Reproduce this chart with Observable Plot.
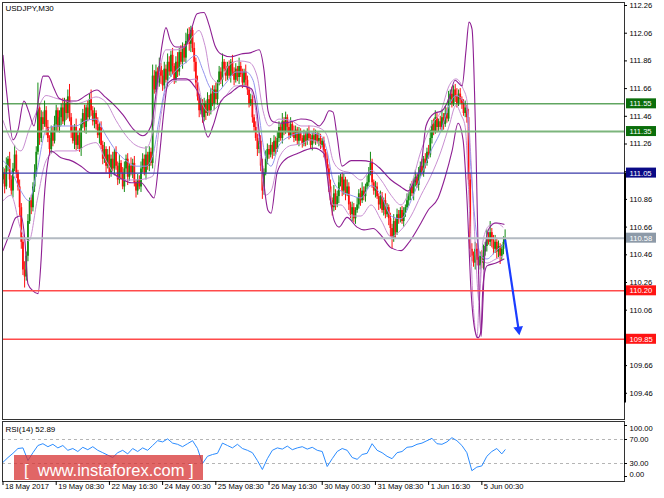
<!DOCTYPE html>
<html><head><meta charset="utf-8">
<script src="https://cdn.jsdelivr.net/npm/d3@7"></script>
<script src="https://cdn.jsdelivr.net/npm/@observablehq/plot@0.6"></script>
<style>
html,body{margin:0;padding:0;background:#fff;}
#wrap{position:relative;width:664px;height:498px;overflow:hidden;}
#main{position:absolute;left:0;top:0;}
#rsi{position:absolute;left:0;top:420px;}
#wm{position:absolute;left:14px;top:455px;width:189px;height:25px;background:rgba(214,48,48,0.74);color:#fff;
font-family:"Liberation Sans",Arial,sans-serif;font-size:16.5px;line-height:31px;white-space:pre;padding-left:10px;box-sizing:border-box;}
</style></head>
<body><div id="wrap"><div id="main"></div><div id="rsi"></div><div id="wm">[  www.instaforex.com ]</div></div>
<script>
// ---------- data ----------
const symbolLabel = "USDJPY,M30";
const firstOpen = 111.00;
const closes = [
111.05,110.95,111.10,111.15,111.00,110.92,111.08,111.18,111.05,110.95,
110.80,110.55,110.35,110.30,110.45,110.70,110.85,110.80,110.95,111.05,
111.20,111.52,111.30,111.45,111.40,111.50,111.38,111.30,111.22,111.35,
111.28,111.40,111.50,111.38,111.45,111.52,111.42,111.55,111.48,111.60,
111.45,111.35,111.28,111.38,111.25,111.32,111.22,111.40,111.48,111.38,
111.52,111.45,111.58,111.50,111.42,111.48,111.40,111.32,111.38,111.25,
111.15,111.22,111.10,111.18,111.05,111.15,111.08,111.20,111.10,111.00,
111.12,111.05,110.95,111.08,111.15,111.02,111.10,111.05,111.12,110.98,
110.92,111.00,110.95,111.08,111.15,111.05,111.18,111.10,111.20,111.12,
111.75,111.65,111.78,111.70,111.82,111.75,111.68,111.80,111.72,111.85,
111.78,111.90,111.82,111.72,111.85,111.78,111.92,111.85,111.95,111.88,
112.00,112.05,111.98,112.08,111.95,111.85,111.70,111.60,111.50,111.55,
111.45,111.55,111.48,111.58,111.50,111.62,111.55,111.65,111.58,111.70,
111.78,111.72,111.85,111.80,111.75,111.82,111.75,111.85,111.78,111.72,
111.80,111.74,111.82,111.76,111.70,111.78,111.72,111.65,111.55,111.58,
111.45,111.38,111.30,111.22,111.28,111.10,110.92,111.05,111.15,111.22,
111.18,111.25,111.20,111.28,111.22,111.30,111.38,111.30,111.42,111.35,
111.45,111.38,111.32,111.40,111.35,111.30,111.36,111.28,111.34,111.30,
111.26,111.32,111.28,111.35,111.30,111.25,111.32,111.28,111.33,111.28,
111.30,111.25,111.28,111.20,111.15,111.08,110.95,110.85,110.80,110.90,
110.82,110.88,110.98,111.02,110.92,111.00,110.90,110.95,110.82,110.75,
110.80,110.72,110.78,110.82,110.90,110.85,110.92,110.88,110.95,110.98,
111.05,111.12,110.98,110.92,110.95,110.88,110.82,110.88,110.78,110.85,
110.75,110.80,110.72,110.65,110.58,110.70,110.62,110.75,110.72,110.78,
110.70,110.76,110.80,110.85,110.88,110.95,110.90,110.98,111.02,110.96,
111.05,111.10,111.05,111.15,111.12,111.20,111.18,111.30,111.40,111.35,
111.45,111.38,111.42,111.38,111.45,111.40,111.48,111.44,111.58,111.62,
111.55,111.65,111.60,111.55,111.62,111.58,111.55,111.48,111.52,111.45,
111.00,110.50,110.45,110.40,110.50,110.42,110.38,110.45,110.40,110.48,
110.52,110.58,110.55,110.62,110.56,110.50,110.55,110.48,110.52,110.45,
110.50,110.55,110.58];
// upper / lower wick lengths in pips beyond the candle body
const hiW = [
4,3,6,2,5,3,4,7,3,2,5,3,4,6,3,5,2,4,3,6,4,18,3,5,4,7,3,5,2,4,
3,6,4,2,5,3,7,4,3,5,9,3,4,2,6,3,5,4,3,6,2,5,4,7,3,4,2,5,3,4,
3,5,2,4,6,3,5,2,4,3,6,2,4,5,3,4,2,6,3,5,2,4,3,5,4,3,6,2,4,3,
8,4,5,3,6,2,4,5,3,6,4,3,5,2,4,7,3,5,4,3,6,4,5,3,2,4,3,5,2,4,
3,4,2,5,3,4,6,3,5,2,4,3,6,2,5,3,4,2,5,3,4,2,6,3,4,2,5,3,2,4,
3,2,4,3,2,4,5,3,6,4,3,5,2,4,3,5,4,2,6,3,4,2,3,5,2,4,3,2,4,3,
2,4,3,2,4,3,2,5,3,2,4,3,2,3,2,4,3,5,2,6,3,4,5,2,3,4,2,5,3,2,
4,3,2,5,3,4,6,3,2,5,4,8,3,2,4,3,2,4,3,2,5,3,2,4,3,5,2,4,3,2,
3,4,2,5,3,2,4,3,5,2,4,3,5,2,4,3,5,6,3,4,5,3,2,4,6,3,5,4,6,3,
5,3,4,6,3,4,2,3,5,2,6,5,4,3,5,4,2,3,4,5,3,6,4,8,3,4,5,3,4,2,
3,4,6];
const loW = [
3,5,2,4,6,3,5,2,4,3,6,5,4,8,3,4,2,5,3,4,3,2,5,3,4,2,6,3,5,3,
4,2,5,3,4,6,2,3,5,4,3,5,2,6,4,3,2,5,3,4,5,3,2,4,3,5,4,2,6,3,
4,3,5,2,4,3,2,5,3,4,3,5,2,4,3,6,3,2,4,3,5,3,2,4,3,2,5,3,4,2,
4,3,2,5,3,6,4,3,2,5,3,4,6,3,2,4,3,2,5,3,4,2,5,6,3,7,4,3,5,3,
4,3,5,2,4,3,2,5,3,4,2,3,5,2,4,3,2,5,3,4,2,3,5,2,4,3,5,4,3,2,
4,3,2,5,3,4,6,3,2,4,3,2,5,3,4,2,3,2,4,3,2,4,3,2,4,3,2,3,4,2,
3,2,4,3,2,3,4,2,3,2,4,3,2,4,3,5,4,3,6,3,4,2,5,3,4,3,5,2,4,3,
5,3,4,2,3,4,2,3,4,2,3,2,4,3,5,2,4,3,2,4,3,2,5,6,8,3,5,2,4,3,
2,4,3,2,4,3,2,5,3,2,4,3,2,3,4,2,3,2,4,3,2,4,3,2,3,4,2,3,2,4,
3,2,4,3,2,3,4,2,3,4,5,6,4,3,5,4,6,3,4,5,3,4,2,3,5,4,3,5,4,6,
3,4,2];
// envelope lines: [bar index, price]
const outerUpper = [[0,111.90],[2.4,111.61],[6,111.29],[9,111.36],[12.6,111.57],[15.6,111.49],[18.6,111.39],[21.7,111.61],[24.1,111.75],[27.1,111.75],[30.7,111.66],[33.7,111.59],[38.5,111.57],[43.9,111.57],[49.9,111.61],[56.5,111.65],[61.4,111.60],[66.2,111.55],[72.2,111.47],[78.2,111.37],[84.2,111.32],[89,111.39],[92.6,111.68],[95.6,111.97],[98,112.10],[100.5,112.01],[104.1,111.96],[109.5,111.96],[113.1,112.08],[116.7,112.20],[120.9,112.21],[123.9,112.12],[127.5,111.97],[131.1,111.91],[137.1,111.89],[143.2,111.91],[149.2,111.92],[154,111.94],[157,111.79],[159.4,111.50],[162.4,111.42],[167.2,111.41],[173.2,111.42],[179.2,111.44],[185.3,111.43],[190.1,111.39],[193.1,111.43],[196.1,111.50],[198.5,111.49],[200.9,111.32],[203.9,111.10],[209.3,111.14],[215.3,111.14],[221.4,111.13],[226.2,111.09],[233.4,111.00],[239.4,110.95],[243.6,110.92],[247.8,111.00],[251.4,111.10],[254.4,111.39],[259.2,111.48],[264.1,111.50],[268.3,111.59],[271.9,111.72],[276.1,111.68],[278.5,111.94],[280.3,112.14],[282.1,112.09],[284.5,111.21],[286.3,110.20],[287.5,109.87],[288.7,110.13],[289.9,110.49],[292.3,110.65],[296.5,110.69],[301.3,110.68]];
const outerLower = [[0,110.49],[3.6,110.60],[7.8,110.73],[10.8,110.74],[13.2,110.56],[15,110.25],[18,110.20],[21.1,110.18],[22.9,110.42],[24.7,110.85],[27.1,111.14],[28.9,111.21],[34.9,111.16],[40.9,111.14],[46.9,111.10],[52.9,111.05],[58.9,111.05],[65,111.05],[71,111.01],[77,110.98],[83,110.98],[87.8,110.91],[90.8,110.87],[93.8,111.14],[96.8,111.50],[99.2,111.70],[104.1,111.73],[110.1,111.73],[114.9,111.68],[117.9,111.61],[120.9,111.39],[123.3,111.31],[126.3,111.39],[131.1,111.57],[137.1,111.63],[143.2,111.68],[149.2,111.66],[152.2,111.54],[155.2,111.21],[157,110.97],[159.4,110.78],[161.2,110.76],[164.8,111.05],[169,111.14],[176.8,111.19],[187.1,111.23],[193.1,111.19],[196.1,110.92],[199.1,110.71],[202.1,110.66],[206.9,110.73],[212.9,110.66],[217.1,110.64],[222.6,110.65],[227.4,110.60],[233.4,110.51],[239.4,110.49],[243.6,110.54],[251.4,110.69],[255.6,110.78],[261.7,110.87],[265.9,111.02],[270.1,111.21],[273.7,111.41],[276.7,111.29],[279.1,110.85],[281.5,110.20],[283.9,109.91],[285.7,109.86],[287.5,109.91],[288.7,110.24],[291.1,110.38],[296.5,110.40],[301.3,110.43]];
const innerUpper = [[0,111.43],[4.8,111.29],[10.8,111.21],[15.6,111.36],[20.5,111.50],[25.9,111.61],[31.9,111.59],[37.9,111.57],[43.9,111.55],[49.9,111.57],[55.9,111.60],[62,111.56],[68,111.43],[74,111.32],[80,111.25],[86,111.23],[90.2,111.36],[93.8,111.75],[98,111.94],[104.1,111.94],[110.1,111.97],[114.3,112.04],[117.9,112.08],[121.5,111.97],[125.1,111.75],[129.9,111.70],[135.9,111.83],[142,111.86],[148,111.85],[152.8,111.75],[156.4,111.50],[160,111.39],[166,111.44],[173.2,111.43],[179.2,111.39],[185.3,111.39],[191.3,111.37],[194.9,111.32],[198.5,111.14],[203.3,111.07],[209.3,111.05],[215.3,111.00],[221.4,111.07],[227.4,111.00],[233.4,110.89],[239.4,110.82],[245.4,110.96],[251.4,111.21],[257.4,111.39],[263.5,111.50],[268.3,111.68],[272.5,111.73],[276.7,111.66],[279.1,111.57],[281.5,111.14],[283.9,110.56],[286.3,110.13],[288.7,110.56],[292.3,110.67],[296.5,110.69],[300.7,110.66]];
const innerLower = [[0,110.85],[4.8,110.89],[10.8,110.64],[15.6,110.56],[20.5,110.85],[25.9,111.14],[31.9,111.21],[37.9,111.21],[43.9,111.21],[49.9,111.25],[55.9,111.27],[62,111.14],[68,111.03],[74,111.00],[80,111.00],[86,111.01],[90.2,111.03],[93.8,111.36],[98,111.65],[104.1,111.72],[110.1,111.72],[116.1,111.73],[120.3,111.54],[123.9,111.49],[128.1,111.52],[134.1,111.61],[140.2,111.68],[146.2,111.68],[150.4,111.61],[154,111.29],[157.6,110.89],[161.2,110.92],[166,111.16],[173.2,111.25],[179.2,111.26],[185.3,111.29],[191.3,111.25],[194.9,111.07],[198.5,110.82],[203.3,110.82],[209.3,110.74],[215.3,110.74],[221.4,110.82],[227.4,110.71],[233.4,110.59],[239.4,110.64],[245.4,110.74],[251.4,110.89],[257.4,111.03],[263.5,111.21],[268.3,111.39],[272.5,111.54],[275.5,111.47],[277.9,111.39],[280.3,110.85],[282.7,110.13],[285.1,109.86],[286.3,110.13],[288.1,110.42],[291.1,110.40],[296.5,110.43],[300.7,110.45]];
const middle = [[0,111.14],[4.8,111.07],[10.8,110.92],[15.6,110.85],[20.5,111.07],[25.9,111.36],[31.9,111.39],[37.9,111.39],[43.9,111.39],[49.9,111.43],[55.9,111.44],[62,111.32],[68,111.21],[74,111.14],[80,111.10],[86,111.10],[90.2,111.18],[93.8,111.43],[98,111.68],[104.1,111.79],[110.1,111.85],[116.1,111.90],[120.3,111.79],[123.9,111.68],[128.1,111.63],[134.1,111.70],[140.2,111.78],[146.2,111.78],[150.4,111.72],[154,111.47],[157.6,111.18],[161.2,111.10],[166,111.25],[173.2,111.32],[179.2,111.34],[185.3,111.34],[191.3,111.32],[194.9,111.21],[198.5,111.00],[203.3,110.92],[209.3,110.89],[215.3,110.87],[221.4,110.96],[227.4,110.89],[233.4,110.74],[239.4,110.72],[245.4,110.85],[251.4,111.03],[257.4,111.21],[263.5,111.36],[268.3,111.54],[272.5,111.61],[276.7,111.57],[279.1,111.50],[281.5,111.07],[284.5,110.64],[287.5,110.45],[291.1,110.43],[296.5,110.49],[300.7,110.53]];
// horizontal levels
const levelValues = [111.55, 111.35, 111.05, 110.58, 110.20, 109.85];
const levelLineColors = ["#127a12", "#7cb57c", "#3a3aa8", "#b3bac2", "#ff4a4a", "#ff4a4a"];
const levelLineWidths = [1, 2, 1.3, 2, 1.5, 1.5];
const levelBoxColors = ["#0b6e0b", "#0b6e0b", "#0a0a86", "#8d9aa8", "#ff1414", "#ff1414"];
// price axis ticks
const priceTicks = [112.26,112.06,111.86,111.66,111.46,111.26,111.06,110.86,110.66,110.46,110.26,110.06,109.86,109.66,109.46];
// forecast arrow
const arrowFrom = {bar: 302, price: 110.57};
const arrowTo = {bar: 310.1, price: 109.92};
// right-axis dark segment
const axisBar = {from: 111.05, to: 109.39};
// RSI(14), one reading every 3 bars (last = latest bar)
const rsiName = "RSI(14)";
const rsiVals = [32,40,47,55,56,35,48,60,63,58,62,56,60,52,55,50,57,53,58,52,
48,44,40,48,52,46,55,50,56,52,60,68,66,71,64,62,58,63,68,55,
30,42,45,47,64,60,56,62,55,52,48,35,20,38,52,56,54,59,53,56,
58,54,57,52,50,25,38,50,55,52,40,37,45,47,63,52,48,42,38,48,
50,57,58,62,64,68,72,63,62,66,73,68,60,48,18,24,26,42,50,55,46,52.89];
const rsiLevels = [70, 30];
const rsiMax = 100, rsiMin = 0;
// time axis
const timeIdx = [0, 32, 64, 96, 128, 160, 192, 224, 256, 288];
const timeLabels = ["18 May 2017","19 May 08:30","22 May 16:30","24 May 00:30","25 May 08:30","26 May 16:30","30 May 00:30","31 May 08:30","1 Jun 16:30","5 Jun 00:30"];

// ---------- derived ----------
const bull = "#138c13", bear = "#ff1010";
const bars = closes.map((c, i) => {
  const o = i === 0 ? firstOpen : closes[i - 1];
  return {i, o, c, hi: Math.max(o, c) + hiW[i] / 100, lo: Math.min(o, c) - loW[i] / 100, col: c >= o ? bull : bear};
});
const xDomain = [-0.3, 373.8];
const xEnd = xDomain[1];
const levels = levelValues.map((v, k) => ({v, line: levelLineColors[k], w: levelLineWidths[k], box: levelBoxColors[k]}));
const rsiPts = rsiVals.map((v, k) => ({i: Math.min(3 * k, closes.length - 1), v}));
const timeTicks = timeIdx.map((d, k) => ({i: d, label: timeLabels[k]}));
const font = "font-family:'Liberation Sans',Arial,sans-serif;font-size:7.6px;background:#fff;overflow:visible;";
const P = () => ({x: d => d[0], y: d => d[1]});
const f2 = d => d.toFixed(2);

// right-axis tick helper (short tick + label)
const rightTick = (vals) => [
  Plot.ruleY(vals, {y: "v", x1: () => xEnd, x2: () => xEnd, insetRight: -3, stroke: "#000"}),
  Plot.text(vals, {x: () => xEnd, y: "v", text: d => f2(d.v), dx: 5, textAnchor: "start", fill: "#000"})
];

const mainPlot = Plot.plot({
  width: 664, height: 420,
  marginLeft: 2, marginRight: 40, marginTop: 2, marginBottom: 1,
  x: {domain: xDomain, axis: null},
  y: {domain: [109.2708, 112.2817], axis: null},
  color: {type: "identity"},
  style: font,
  marks: [
    Plot.ruleX(bars, {x: "i", y1: "lo", y2: "hi", stroke: "col", strokeWidth: 1}),
    Plot.ruleX(bars, {x: "i", y1: "o", y2: "c", stroke: "col", strokeWidth: 1.8}),
    Plot.line(innerUpper, {...P(), stroke: "#c98fd2", strokeWidth: 1, curve: "monotone-x"}),
    Plot.line(innerLower, {...P(), stroke: "#c98fd2", strokeWidth: 1, curve: "monotone-x"}),
    Plot.line(middle, {...P(), stroke: "#9494ee", strokeWidth: 1, curve: "monotone-x"}),
    Plot.line(outerUpper, {...P(), stroke: "#8e1f93", strokeWidth: 1.1, curve: "monotone-x"}),
    Plot.line(outerLower, {...P(), stroke: "#8e1f93", strokeWidth: 1.1, curve: "monotone-x"}),
    Plot.ruleY(levels, {y: "v", stroke: "line", strokeWidth: "w"}),
    Plot.frame({stroke: "#333"}),
    Plot.ruleX([xEnd], {y1: axisBar.from, y2: axisBar.to, stroke: "#000", strokeWidth: 2, dx: 0.5}),
    ...rightTick(priceTicks.map(v => ({v}))),
    Plot.rect(levels, {x1: () => xEnd, x2: () => xEnd, y1: "v", y2: "v", fill: "box", insetLeft: 2, insetRight: -32, insetTop: -5, insetBottom: -5}),
    Plot.text(levels, {x: () => xEnd, y: "v", text: d => f2(d.v), dx: 5, textAnchor: "start", fill: "#fff"}),
    Plot.link([0], {x1: () => arrowFrom.bar, y1: () => arrowFrom.price, x2: () => arrowTo.bar, y2: () => arrowTo.price, stroke: "#1a3cff", strokeWidth: 2.2}),
    Plot.dot([0], {x: () => arrowTo.bar, y: () => arrowTo.price, symbol: "triangle", r: 3.6, fill: "#1a3cff", stroke: "none", rotate: 171.6}),
    Plot.text([symbolLabel], {frameAnchor: "top-left", dx: 3, dy: 3, lineAnchor: "top", fontSize: 8})
  ]
});
document.getElementById("main").appendChild(mainPlot);

const rsiPlot = Plot.plot({
  width: 664, height: 78,
  marginLeft: 2, marginRight: 40, marginTop: 1, marginBottom: 17,
  x: {domain: xDomain, axis: null},
  y: {domain: [rsiMin, rsiMax], axis: null},
  style: font,
  marks: [
    Plot.ruleY(rsiLevels, {stroke: "#b5b5b5", strokeDasharray: "3,3"}),
    Plot.line(rsiPts, {x: "i", y: "v", stroke: "#2b8cff", strokeWidth: 1}),
    Plot.frame({stroke: "#333"}),
    ...rightTick(rsiLevels.map(v => ({v}))),
    // panel-edge scale labels, set just inside the panel as the platform draws them
    Plot.text([f2(rsiMax)], {frameAnchor: "top-right", dx: 5, dy: 4, textAnchor: "start", fill: "#000"}),
    Plot.text([f2(rsiMin)], {frameAnchor: "bottom-right", dx: 5, dy: -5, textAnchor: "start", fill: "#000"}),
    Plot.ruleY([rsiMax], {x1: () => xEnd, x2: () => xEnd, insetRight: -3, stroke: "#000", dy: 4}),
    Plot.ruleY([rsiMin], {x1: () => xEnd, x2: () => xEnd, insetRight: -3, stroke: "#000", dy: -5}),
    Plot.ruleX(timeTicks, {x: "i", y1: () => 0, y2: () => 0, insetBottom: -4, stroke: "#000"}),
    Plot.text(timeTicks, {x: "i", text: "label", frameAnchor: "bottom", lineAnchor: "top", dy: 2, dx: 2, textAnchor: "start", fill: "#000"}),
    Plot.text([`${rsiName} ${f2(rsiVals[rsiVals.length - 1])}`], {frameAnchor: "top-left", dx: 3, dy: 5, lineAnchor: "top", fontSize: 8})
  ]
});
document.getElementById("rsi").appendChild(rsiPlot);
</script>
</body></html>
